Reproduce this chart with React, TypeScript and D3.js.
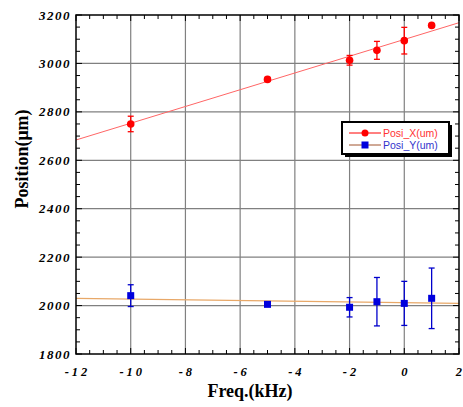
import React from 'react';
import * as d3 from 'd3';

// readings (kHz, um)
const freq = [-10, -5, -2, -1, 0, 1];
const posX = [2750, 2934, 3013, 3054, 3094, 3157];
const errX = [32, 8, 20, 37, 55, 5];
const posY = [2041, 2005, 1993, 2016, 2009, 2030];
const errY = [45, 6, 40, 100, 91, 125];
// linear fits: [intercept, slope]
const fitX = [3099, 34.6];
const fitY = [2012, -1.5];

const xTicks = [-12, -10, -8, -6, -4, -2, 0, 2];
const yTicks = [1800, 2000, 2200, 2400, 2600, 2800, 3000, 3200];

const W = 463, H = 407;
const margin = { left: 76, right: 4, top: 15, bottom: 53 };

const App = () => {
  const x = d3.scaleLinear().domain([-12, 2]).range([margin.left, W - margin.right]);
  const y = d3.scaleLinear().domain([1800, 3200]).range([H - margin.bottom, margin.top]);
  const [x0, x1] = x.range();
  const [y0, y1] = y.range();

  const minorX = d3.range(-12, 2.01, 0.5);
  const minorY = d3.range(1800, 3201, 50);

  const fitLine = (f: number[]) =>
    d3.line<number>().x(d => x(d)).y(d => y(f[0] + f[1] * d))([-12, 2]) as string;

  const tickFont = { fontFamily: 'Liberation Serif, serif', fontWeight: 'bold', fontStyle: 'italic' } as const;

  return (
    <svg width={W} height={H} style={{ position: 'absolute', left: 0, top: 0, background: '#fff' }}>
      {/* grid */}
      {xTicks.slice(1, -1).map(t => (
        <line key={'gx' + t} x1={x(t)} x2={x(t)} y1={y1} y2={y0} stroke="#808080" strokeWidth={1.2} />
      ))}
      {yTicks.slice(1, -1).map(t => (
        <line key={'gy' + t} x1={x0} x2={x1} y1={y(t)} y2={y(t)} stroke="#808080" strokeWidth={1.2} />
      ))}

      {/* ticks, inward on all sides */}
      {minorX.map(t => {
        const len = t % 2 === 0 ? 6 : 4;
        return (
          <g key={'tx' + t} stroke="#000" strokeWidth={1}>
            <line x1={x(t)} x2={x(t)} y1={y0} y2={y0 - len} />
            <line x1={x(t)} x2={x(t)} y1={y1} y2={y1 + len} />
          </g>
        );
      })}
      {minorY.map(t => {
        const len = t % 200 === 0 ? 6 : 4;
        return (
          <g key={'ty' + t} stroke="#000" strokeWidth={1}>
            <line x1={x0} x2={x0 + len} y1={y(t)} y2={y(t)} />
            <line x1={x1} x2={x1 - len} y1={y(t)} y2={y(t)} />
          </g>
        );
      })}

      {/* fits */}
      <path d={fitLine(fitX)} stroke="#ff6666" strokeWidth={1} fill="none" />
      <path d={fitLine(fitY)} stroke="#e8a868" strokeWidth={1.2} fill="none" />

      {/* Posi_X */}
      {freq.map((f, i) => (
        <g key={'px' + i} stroke="#ff0000" strokeWidth={1.3}>
          <line x1={x(f)} x2={x(f)} y1={y(posX[i] - errX[i])} y2={y(posX[i] + errX[i])} />
          <line x1={x(f) - 3} x2={x(f) + 3} y1={y(posX[i] - errX[i])} y2={y(posX[i] - errX[i])} />
          <line x1={x(f) - 3} x2={x(f) + 3} y1={y(posX[i] + errX[i])} y2={y(posX[i] + errX[i])} />
          <circle cx={x(f)} cy={y(posX[i])} r={3.8} fill="#ff0000" stroke="none" />
        </g>
      ))}

      {/* Posi_Y */}
      {freq.map((f, i) => (
        <g key={'py' + i} stroke="#0000cc" strokeWidth={1.3}>
          <line x1={x(f)} x2={x(f)} y1={y(posY[i] - errY[i])} y2={y(posY[i] + errY[i])} />
          <line x1={x(f) - 3} x2={x(f) + 3} y1={y(posY[i] - errY[i])} y2={y(posY[i] - errY[i])} />
          <line x1={x(f) - 3} x2={x(f) + 3} y1={y(posY[i] + errY[i])} y2={y(posY[i] + errY[i])} />
          <rect x={x(f) - 3.5} y={y(posY[i]) - 3.5} width={7} height={7} fill="#0000dd" stroke="none" />
        </g>
      ))}

      {/* frame */}
      <rect x={x0} y={y1} width={x1 - x0} height={y0 - y1} fill="none" stroke="#000" strokeWidth={1.5} />

      {/* tick labels */}
      {xTicks.map((t, i) => {
        const last = i === xTicks.length - 1;
        return (
          <text key={'lx' + t} x={last ? W - 1 : x(t) + 1.5} y={y0 + 22}
            textAnchor={last ? 'end' : 'middle'} fontSize={12.5}
            letterSpacing={last ? 0 : 3} {...tickFont}>
            {t < 0 ? '-' + Math.abs(t) : String(t)}
          </text>
        );
      })}
      {yTicks.map(t => (
        <text key={'ly' + t} x={x0 - 5} y={y(t) + 4.5} textAnchor="end" fontSize={13}
          letterSpacing={1.5} {...tickFont}>
          {t}
        </text>
      ))}

      {/* axis titles */}
      <text x={250} y={397} textAnchor="middle" fontSize={18}
        fontFamily="Liberation Serif, serif" fontWeight="bold">Freq.(kHz)</text>
      <text transform="translate(28, 159) rotate(-90)" textAnchor="middle" fontSize={18}
        fontFamily="Liberation Serif, serif" fontWeight="bold">Position(μm)</text>

      {/* legend */}
      <g>
        <rect x={345} y={125} width={107} height={32} fill="#000" />
        <rect x={342} y={122} width={107} height={32} fill="#fff" stroke="#000" strokeWidth={2} />
        <line x1={349} x2={381} y1={133} y2={133} stroke="#ff0000" strokeWidth={1} />
        <circle cx={365} cy={133} r={3.5} fill="#ff0000" />
        <text x={383} y={137} fontSize={10.5} fontFamily="Liberation Sans, Arial, sans-serif" fill="#ff3333">Posi_X(um)</text>
        <line x1={349} x2={381} y1={145} y2={145} stroke="#a0522d" strokeWidth={1} />
        <rect x={361.5} y={141.5} width={7} height={7} fill="#0000dd" />
        <text x={383} y={149} fontSize={10.5} fontFamily="Liberation Sans, Arial, sans-serif" fill="#3333cc">Posi_Y(um)</text>
      </g>
    </svg>
  );
};

export default App;
